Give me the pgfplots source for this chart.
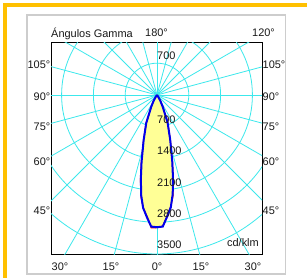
\documentclass[border=0pt]{standalone}
\usepackage{pgfplots}
\pgfplotsset{compat=1.18}
\usepackage{pgfplotstable}
\usepackage{fontspec}
\setmainfont{Liberation Sans}
\definecolor{gridc}{RGB}{60,232,236}
\definecolor{frameor}{RGB}{255,192,0}
\definecolor{panelgray}{RGB}{205,205,205}
\definecolor{fillyel}{RGB}{255,255,150}
\definecolor{curveblue}{RGB}{0,0,235}
\definecolor{curvered}{RGB}{235,0,0}

% gamma (deg from nadir), intensity (cd/klm)
\pgfplotstableread{
g I
-40 0
-35 40
-30 150
-26 290
-21 660
-16.5 1035
-13 1510
-11 1860
-9 2230
-7 2505
-4.5 2720
-2.5 2900
0 2910
2.5 2900
4.5 2710
7 2490
9 2210
11 1840
13 1490
16.5 1020
21 650
26 285
30 145
35 35
40 0
}\blueC

\pgfplotstableread{
g I
-40 0
-35 45
-30 160
-26 300
-21 670
-16.5 1050
-13 1540
-11 1900
-9 2260
-7 2500
-4.5 2700
-2.5 2925
0 2920
2.5 2890
4.5 2700
7 2480
9 2250
11 1870
13 1500
16.5 1030
21 650
26 285
30 145
35 35
40 0
}\redC

\begin{document}
\begin{tikzpicture}[x=1bp,y=1bp,every node/.style={font=\fontsize{11}{13}\selectfont, inner sep=0pt, text=black!90}]
\useasboundingbox (0,0) rectangle (307,278);
\fill[white] (0,0) rectangle (307,278);
\draw[frameor, line width=4bp] (5.3,0) -- (5.3,273) -- (307,273);
\draw[panelgray, line width=1.5bp] (27,4) rectangle (285.5,263);
\begin{axis}[at={(157bp,183bp)}, anchor=origin, scale only axis,
  width=211bp, height=212bp,
  xmin=-2333, xmax=2311, ymin=-3510, ymax=1157,
  xtick=\empty, ytick=\empty,
  axis line style={black, line width=0.8bp}, clip=true]
\pgfplotsinvokeforeach{700,1400,2100,2800,3500}{
  \draw[gridc, line width=0.8bp] (axis cs:0,0) circle[radius=#1];
}
\pgfplotsinvokeforeach{0,15,...,345}{
  \draw[gridc, line width=0.8bp] (axis cs:0,0) -- (axis cs:{4300*sin(#1)},{-4300*cos(#1)});
}
\addplot[fill=fillyel, draw=none] table[x expr={\thisrow{I}*sin(\thisrow{g})}, y expr={-\thisrow{I}*cos(\thisrow{g})}] {\blueC};
\addplot[curvered, line width=1.2bp] table[x expr={\thisrow{I}*sin(\thisrow{g})}, y expr={-\thisrow{I}*cos(\thisrow{g})}] {\redC};
\addplot[curveblue, line width=2bp] table[x expr={\thisrow{I}*sin(\thisrow{g})}, y expr={-\thisrow{I}*cos(\thisrow{g})}] {\blueC};
\end{axis}
% top labels
\node[anchor=base west] at (51,241) {Ángulos Gamma};
\node[anchor=west] at (145,245) {180°};
\node[anchor=west] at (252,245) {120°};
% left and right labels
\foreach \t/\y in {105/213,90/181,75/151,60/116,45/67}{
  \node[anchor=east] at (50.5,\y) {\t°};
  \node[anchor=west] at (262.5,\y) {\t°};
}
% bottom labels
\node at (60,11) {30°};
\node at (111,11) {15°};
\node at (157,11) {0°};
\node at (201,11) {15°};
\node at (253,11) {30°};
% radial values
\node[anchor=west] at (157,222) {700};
\node[anchor=west] at (157,158) {700};
\node[anchor=west] at (157,127) {1400};
\node[anchor=west] at (157,95) {2100};
\node[anchor=west] at (157,64) {2800};
\node[anchor=west] at (157,33) {3500};
\node[anchor=east] at (259,35) {cd/klm};
\end{tikzpicture}
\end{document}
